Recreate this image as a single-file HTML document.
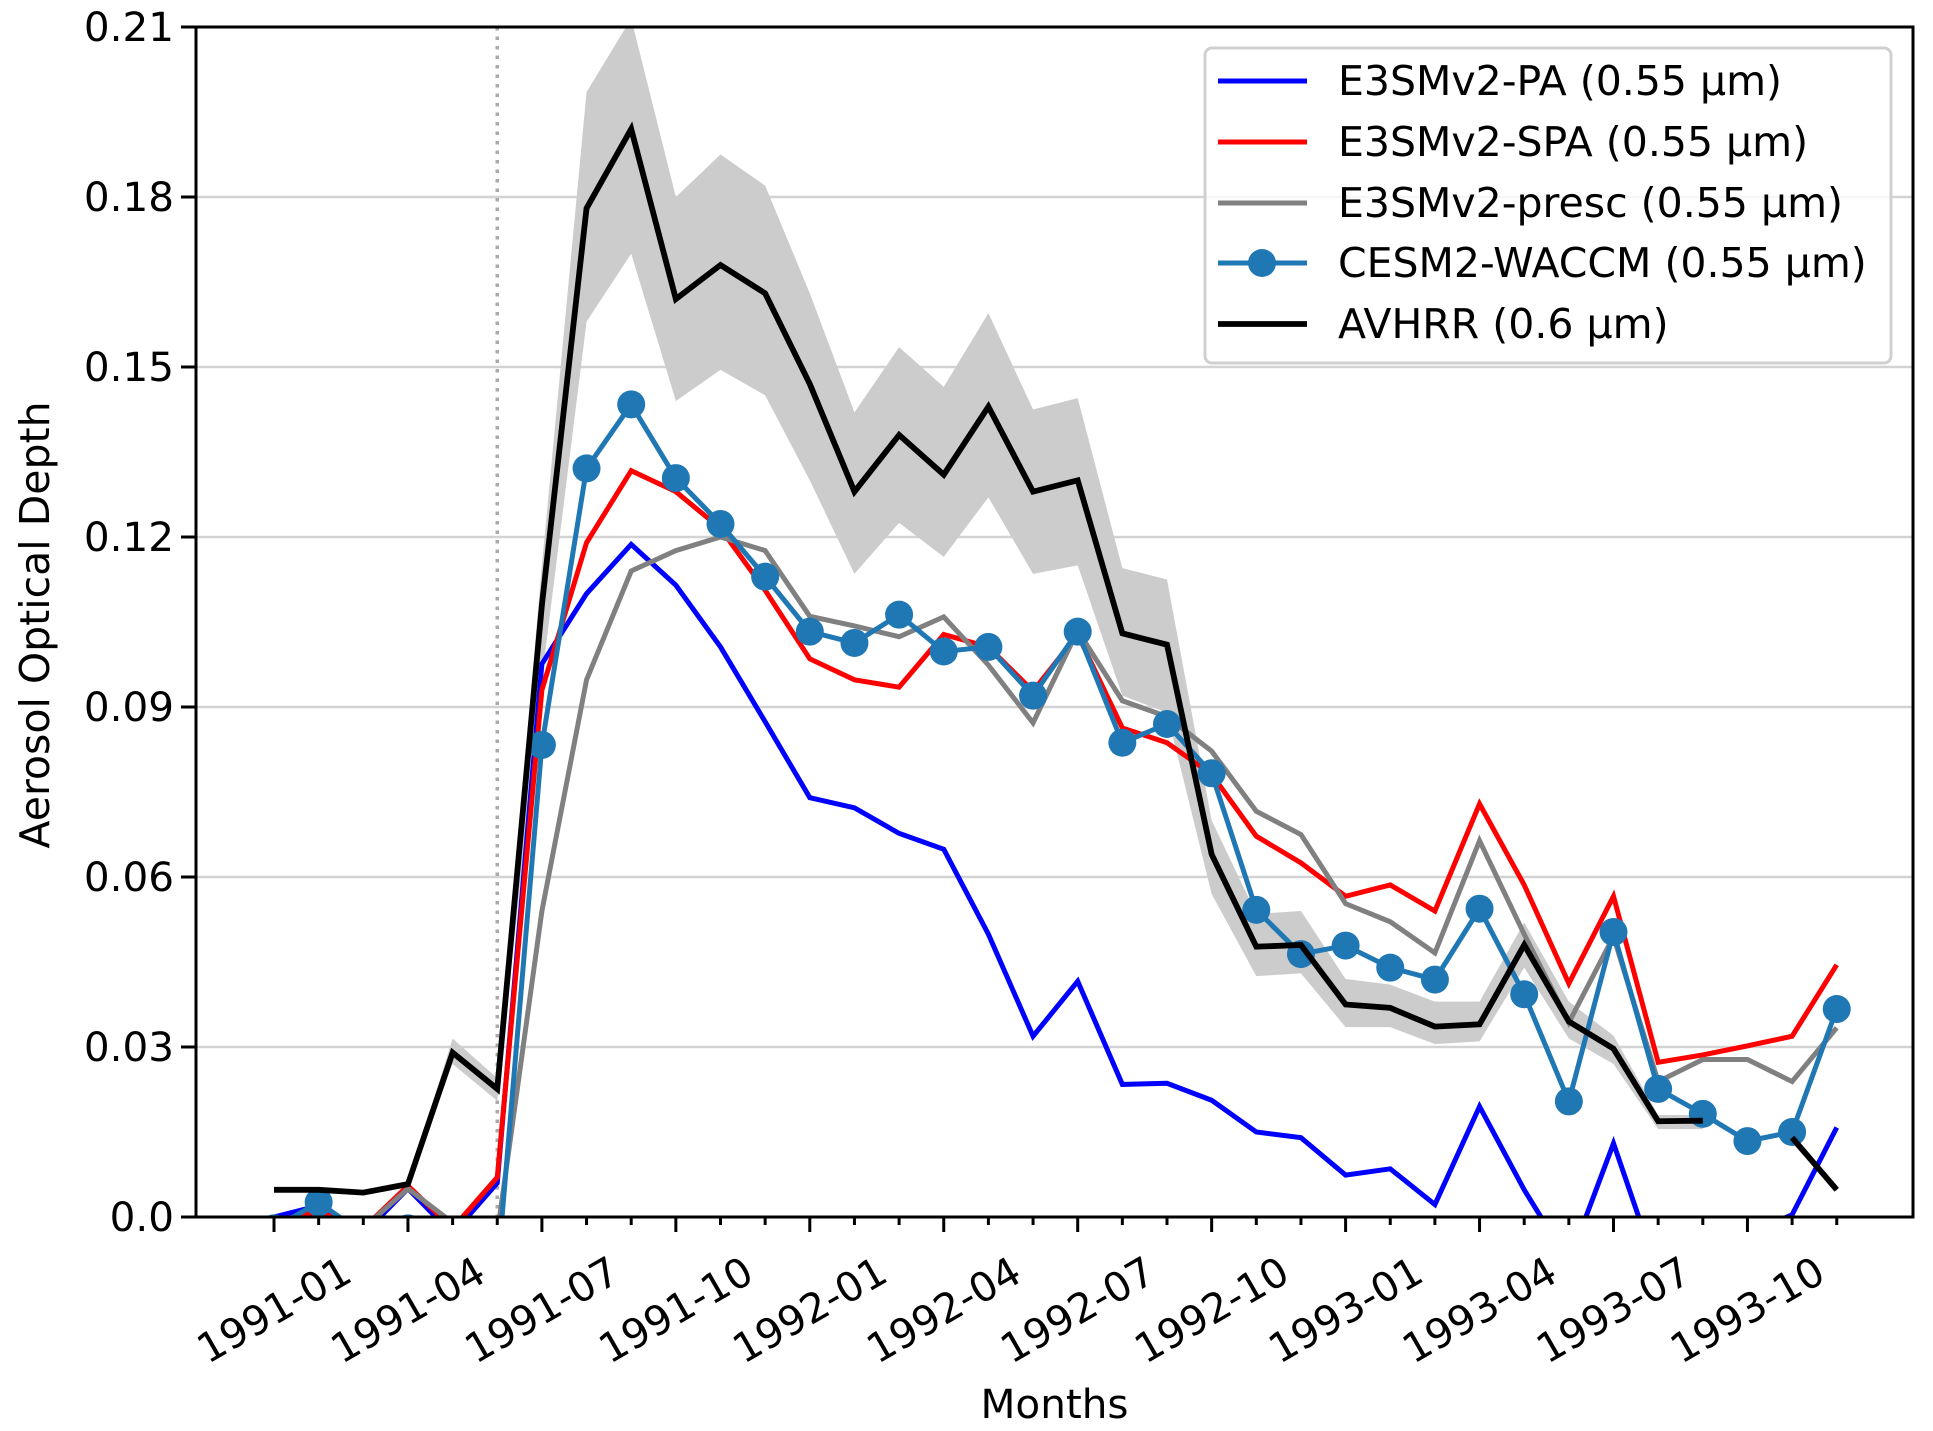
<!DOCTYPE html>
<html><head><meta charset="utf-8"><style>
html,body{margin:0;padding:0;background:#fff;}
svg{display:block;font-family:"DejaVu Sans","Liberation Sans",sans-serif;}
</style></head><body>
<svg id="chart" width="1933" height="1431" viewBox="0 0 1933 1431" xmlns="http://www.w3.org/2000/svg">
<defs><clipPath id="plotclip"><rect x="196" y="27" width="1717" height="1190"/></clipPath></defs>
<rect width="1933" height="1431" fill="#fff"/>
<g id="grid"></g>
<g id="series" clip-path="url(#plotclip)"></g>
<g id="axes"></g>
<g id="legend"></g>
</svg>
<script>
const months = ["1991-01","1991-02","1991-03","1991-04","1991-05","1991-06","1991-07","1991-08","1991-09","1991-10","1991-11","1991-12","1992-01","1992-02","1992-03","1992-04","1992-05","1992-06","1992-07","1992-08","1992-09","1992-10","1992-11","1992-12","1993-01","1993-02","1993-03","1993-04","1993-05","1993-06","1993-07","1993-08","1993-09","1993-10","1993-11","1993-12"];
const yTicks = [0, 0.03, 0.06, 0.09, 0.12, 0.15, 0.18, 0.21];
const yTickLabels = ["0.0","0.03","0.06","0.09","0.12","0.15","0.18","0.21"];
const paValues = [0,0.002,-0.003,0.005,-0.003,0.006,0.0976,0.110,0.1187,0.1115,0.1006,0.0874,0.074,0.0722,0.0677,0.0649,0.0499,0.0319,0.0416,0.0234,0.0236,0.0206,0.015,0.014,0.0074,0.0085,0.0022,0.0195,0.0048,-0.008,0.013,-0.01,-0.01,-0.003,0.0004,0.0158];
const spaValues = [-0.001,0.001,-0.002,0.0055,-0.002,0.007,0.093,0.119,0.1317,0.128,0.1215,0.1106,0.0985,0.0948,0.0935,0.1028,0.1006,0.0928,0.1028,0.0863,0.0837,0.0781,0.0672,0.0625,0.0566,0.0586,0.054,0.0729,0.0586,0.0412,0.0566,0.0273,0.0286,0.0302,0.0319,0.0445];
const prescValues = [-0.003,0,-0.002,0.005,-0.001,-0.003,0.054,0.0948,0.114,0.1176,0.120,0.1176,0.106,0.1043,0.1024,0.1059,0.0974,0.0872,0.1035,0.0911,0.0883,0.0822,0.0716,0.0675,0.0553,0.0521,0.0466,0.0664,0.0499,0.0343,0.0495,0.0239,0.0278,0.0278,0.0239,0.0334];
const waccmValues = [-0.002,0.0026,-0.003,-0.002,-0.004,-0.01,0.0833,0.1321,0.1434,0.1304,0.1223,0.113,0.1033,0.1013,0.1063,0.0998,0.1006,0.092,0.1033,0.0837,0.087,0.0783,0.0542,0.0464,0.0479,0.044,0.0419,0.0544,0.0393,0.0204,0.0503,0.0226,0.0182,0.0134,0.015,0.0367];
const avhrrValues = [0.0048,0.0048,0.0043,0.0058,0.029,0.0226,0.108,0.178,0.192,0.162,0.168,0.163,0.147,0.128,0.138,0.131,0.143,0.128,0.130,0.103,0.101,0.064,0.0477,0.048,0.0375,0.0369,0.0336,0.034,0.048,0.0345,0.0297,0.0169,0.017,null,0.014,0.0048];
const avhrrUpper = [0.005,0.005,0.0045,0.006,0.0315,0.0245,0.115,0.1985,0.2115,0.180,0.1875,0.182,0.163,0.142,0.1535,0.1465,0.1595,0.1425,0.1445,0.1145,0.1125,0.070,0.0535,0.054,0.042,0.041,0.038,0.038,0.052,0.038,0.032,0.018,0.018,null,0.015,0.005];
const avhrrLower = [0.0045,0.0045,0.004,0.0055,0.027,0.0205,0.095,0.158,0.170,0.144,0.1495,0.145,0.130,0.1135,0.1225,0.1165,0.127,0.1135,0.115,0.092,0.089,0.057,0.0425,0.043,0.0335,0.0335,0.0305,0.031,0.044,0.0315,0.027,0.0155,0.0155,null,0.013,0.0045];
const eruptionIndex = 5;

const NS = "http://www.w3.org/2000/svg";
const L = 196, R = 1913, T = 27, B = 1217, YMAX = 0.21;
const X0 = 274, DX = 44.65;
function xs(i){ return X0 + i*DX; }
function ys(v){ return B - (v/YMAX)*(B-T); }
function mk(tag, attrs, parent){ const e=document.createElementNS(NS,tag); for(const k in attrs) e.setAttribute(k,attrs[k]); parent.appendChild(e); return e; }

const grid=document.getElementById('grid'), series=document.getElementById('series'), axes=document.getElementById('axes'), legend=document.getElementById('legend');

yTicks.forEach((v,k)=>{ if(v===0||v===YMAX) return;
  const g=mk('line',{x1:L,x2:R,y1:ys(v),y2:ys(v),stroke:'#d3d3d3','stroke-width':2.5},grid);
  
  
});

const er=mk('line',{x1:xs(eruptionIndex),x2:xs(eruptionIndex),y1:T,y2:B,stroke:'#aaaaaa','stroke-width':3.5,'stroke-dasharray':'3.5,6'},series);



function segments(arr){ const segs=[]; let cur=[]; arr.forEach((v,i)=>{ if(v===null){ if(cur.length) segs.push(cur); cur=[]; } else cur.push(i); }); if(cur.length) segs.push(cur); return segs; }
segments(avhrrUpper).forEach(seg=>{
  let d=seg.map((i,k)=>(k?'L':'M')+xs(i)+','+ys(avhrrUpper[i])).join(' ');
  d+=' '+seg.slice().reverse().map(i=>'L'+xs(i)+','+ys(avhrrLower[i])).join(' ')+' Z';
  const p=mk('path',{d:d,fill:'#cccccc',stroke:'none'},series);
  
  
});

function drawLine(arr,color,w,name){
  segments(arr).forEach(seg=>{
    const d=seg.map((i,k)=>(k?'L':'M')+xs(i)+','+ys(arr[i])).join(' ');
    const p=mk('path',{d:d,fill:'none',stroke:color,'stroke-width':w,'stroke-linejoin':'miter'},series);
    
    
  });
}
drawLine(paValues,'#0000ff',5,'e3smv2-pa-line');
drawLine(spaValues,'#ff0000',5,'e3smv2-spa-line');
drawLine(prescValues,'#808080',5,'e3smv2-presc-line');
drawLine(waccmValues,'#1f77b4',5,'cesm2-waccm-line');
waccmValues.forEach((v,i)=>{
  const c=mk('circle',{cx:xs(i),cy:ys(v),r:14,fill:'#1f77b4'},series);
  
  
});
drawLine(avhrrValues,'#000000',5.8,'avhrr-line');

const fr=mk('rect',{x:L,y:T,width:R-L,height:B-T,fill:'none',stroke:'#000','stroke-width':3},axes);



yTicks.forEach((v,k)=>{
  const t=mk('line',{x1:L-15,x2:L,y1:ys(v),y2:ys(v),stroke:'#000','stroke-width':3},axes);
  
  
  const tx=mk('text',{x:L-22,y:ys(v)+14,'text-anchor':'end','font-size':40.5,fill:'#000'},axes);
  tx.textContent=yTickLabels[k];
  
  
});

months.forEach((m,i)=>{
  const major = i%3===0;
  const t=mk('line',{x1:xs(i),x2:xs(i),y1:B,y2:B+(major?15:8),stroke:'#000','stroke-width':3},axes);
  
  
  if(major){
    const tx=mk('text',{x:0,y:14,'text-anchor':'middle','font-size':40.5,fill:'#000',transform:'translate('+xs(i)+',1310) rotate(-30)'},axes);
    tx.textContent=m;
    
    
  }
});

const xt=mk('text',{x:(L+R)/2,y:1418,'text-anchor':'middle','font-size':40.5,fill:'#000'},axes);
xt.textContent='Months';


const yt=mk('text',{x:0,y:0,'text-anchor':'middle','font-size':41,fill:'#000',transform:'translate(49,625) rotate(-90)'},axes);
yt.textContent='Aerosol Optical Depth';



const lb=mk('rect',{x:1205,y:48,width:686,height:315,rx:7,fill:'#fff','fill-opacity':0.8,stroke:'#d0d0d0','stroke-width':3},legend);


const legNames=["E3SMv2-PA (0.55 µm)","E3SMv2-SPA (0.55 µm)","E3SMv2-presc (0.55 µm)","CESM2-WACCM (0.55 µm)","AVHRR (0.6 µm)"];
const legColors=['#0000ff','#ff0000','#808080','#1f77b4','#000000'];
const legY=[81,142,203,263,324];
legNames.forEach((n,k)=>{
  const g=mk('g',{},legend);
  
  
  mk('line',{x1:1218,x2:1307,y1:legY[k],y2:legY[k],stroke:legColors[k],'stroke-width':k===4?5.8:5},g);
  if(k===3) mk('circle',{cx:1262,cy:legY[k],r:14,fill:'#1f77b4'},g);
  const t=mk('text',{x:1338,y:legY[k]+14,'font-size':41,fill:'#000'},g);
  t.textContent=n;
});
</script>
</body></html>
